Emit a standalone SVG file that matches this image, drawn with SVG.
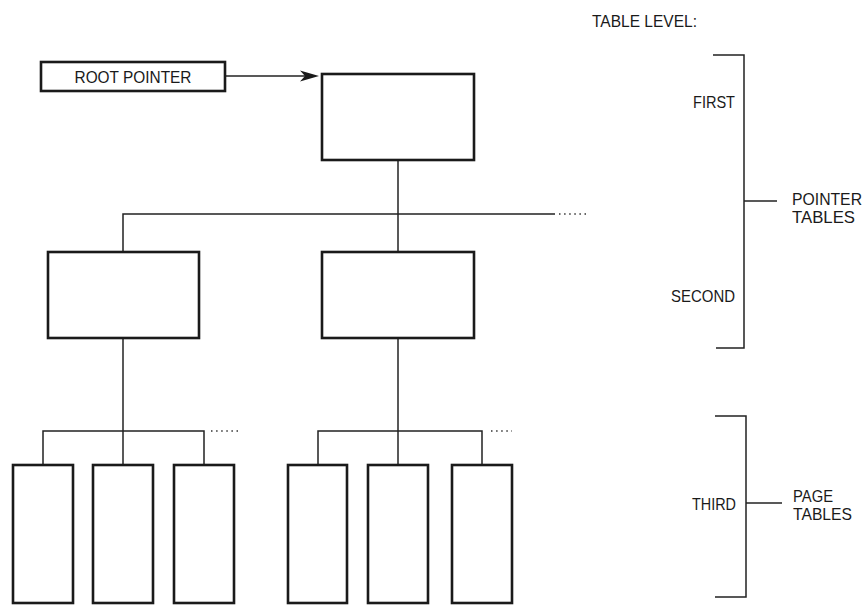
<svg xmlns="http://www.w3.org/2000/svg" width="868" height="605" viewBox="0 0 868 605">
<style>
.box{fill:#fff;stroke:#1a1a1a;stroke-width:2.6}
.ln{fill:none;stroke:#222;stroke-width:1.5}
.dot{fill:none;stroke:#333;stroke-width:1.5;stroke-dasharray:1.5 3.6}
.t{font-family:"Liberation Sans",Arial,sans-serif;font-size:17px;fill:#1a1a1a}
</style>
<rect width="868" height="605" fill="#fff"/>
<g id="connectors">
<line class="ln" x1="225" y1="76" x2="306" y2="76"/>
<path d="M319,76 L300,70.5 L305,76 L300,81.5 Z" fill="#1a1a1a"/>
<line class="ln" x1="398" y1="160" x2="398" y2="252"/>
<polyline class="ln" points="123,252 123,214 555,214"/>
<line class="dot" x1="559" y1="214" x2="586" y2="214"/>
<line class="ln" x1="123" y1="338" x2="123" y2="465"/>
<polyline class="ln" points="43,465 43,431 204,431 204,465"/>
<line class="dot" x1="211" y1="431" x2="238" y2="431"/>
<line class="ln" x1="398" y1="338" x2="398" y2="465"/>
<polyline class="ln" points="318,465 318,431 482,431 482,465"/>
<line class="dot" x1="491" y1="431" x2="512" y2="431"/>
</g>
<g id="root-pointer">
<rect class="box" x="41" y="62" width="184" height="29"/>
<text class="t" x="133" y="83" text-anchor="middle" textLength="117" lengthAdjust="spacingAndGlyphs">ROOT POINTER</text>
</g>
<g id="first-level"><rect class="box" x="322" y="74" width="152" height="86"/></g>
<g id="second-level-1"><rect class="box" x="48" y="252" width="151" height="86"/></g>
<g id="second-level-2"><rect class="box" x="322" y="252" width="152" height="86"/></g>
<g id="page-1"><rect class="box" x="13" y="465" width="60" height="138"/></g>
<g id="page-2"><rect class="box" x="93" y="465" width="60" height="138"/></g>
<g id="page-3"><rect class="box" x="174" y="465" width="60" height="138"/></g>
<g id="page-4"><rect class="box" x="288" y="465" width="59" height="138"/></g>
<g id="page-5"><rect class="box" x="368" y="465" width="60" height="138"/></g>
<g id="page-6"><rect class="box" x="452" y="465" width="60" height="138"/></g>
<g id="legend">
<text class="t" x="592" y="27" textLength="105" lengthAdjust="spacingAndGlyphs">TABLE LEVEL:</text>
<polyline class="ln" points="713,55 744,55 744,348 716,348"/>
<line class="ln" x1="744" y1="201" x2="777" y2="201"/>
<text class="t" x="735" y="108" text-anchor="end" textLength="42" lengthAdjust="spacingAndGlyphs">FIRST</text>
<text class="t" x="735" y="302" text-anchor="end" textLength="64" lengthAdjust="spacingAndGlyphs">SECOND</text>
<text class="t" x="792" y="205" textLength="70" lengthAdjust="spacingAndGlyphs">POINTER</text>
<text class="t" x="792" y="223" textLength="63" lengthAdjust="spacingAndGlyphs">TABLES</text>
<polyline class="ln" points="715,416 746,416 746,597 715,597"/>
<line class="ln" x1="746" y1="503" x2="782" y2="503"/>
<text class="t" x="736" y="510" text-anchor="end" textLength="44" lengthAdjust="spacingAndGlyphs">THIRD</text>
<text class="t" x="793" y="502" textLength="40" lengthAdjust="spacingAndGlyphs">PAGE</text>
<text class="t" x="793" y="520" textLength="59" lengthAdjust="spacingAndGlyphs">TABLES</text>
</g>
</svg>
